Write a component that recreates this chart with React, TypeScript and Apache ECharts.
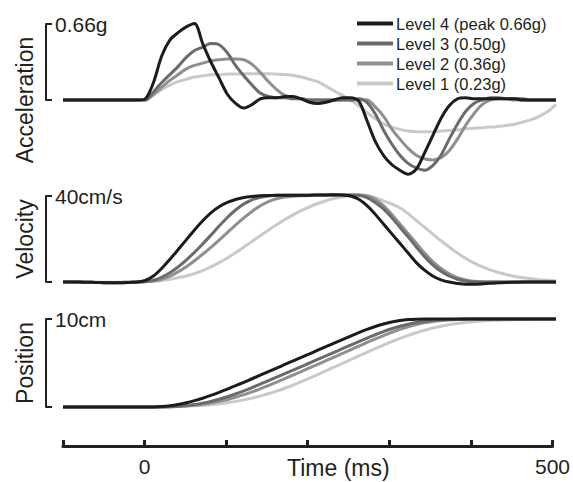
import React, { useEffect, useRef } from "react";
import * as echarts from "echarts";

// ---- data (time in ms, 10 ms steps) ----
const timeMs = [
  -100, -90, -80, -70, -60, -50, -40, -30, -20, -10,
  0, 10, 20, 30, 40, 50, 60, 70, 80, 90,
  100, 110, 120, 130, 140, 150, 160, 170, 180, 190,
  200, 210, 220, 230, 240, 250, 260, 270, 280, 290,
  300, 310, 320, 330, 340, 350, 360, 370, 380, 390,
  400, 410, 420, 430, 440, 450, 460, 470, 480, 490, 500,
];

const levelNames = ["Level 4 (peak 0.66g)", "Level 3 (0.50g)", "Level 2 (0.36g)", "Level 1 (0.23g)"];
const levelColors = ["#1c1c1c", "#6b6b6b", "#8f8f8f", "#c9c9c9"];

// Acceleration (g)
const accL4 = [
  0, 0, 0, 0, 0, 0, 0, 0, 0, 0,
  0.01, 0.15, 0.38, 0.52, 0.585, 0.635, 0.665, 0.49, 0.33, 0.19,
  0.05, -0.03, -0.07, -0.04, 0.01, 0.02, 0.02, 0.03, 0.03, 0.01,
  -0.02, -0.03, -0.02, 0.0, 0.02, 0.02, -0.01, -0.18, -0.36, -0.48,
  -0.56, -0.61, -0.645, -0.6, -0.46, -0.31, -0.16, -0.05, 0.01, 0.02,
  0.01, 0.01, 0.01, 0.01, 0.01, 0.01, 0, 0, 0, 0, 0,
];
const accL3 = [
  0, 0, 0, 0, 0, 0, 0, 0, 0, 0,
  0.0, 0.07, 0.15, 0.22, 0.29, 0.37, 0.43, 0.46, 0.49, 0.48,
  0.41, 0.30, 0.21, 0.13, 0.06, 0.03, 0.02, 0.02, 0.01, 0.01,
  0.0, 0.0, 0.0, 0.0, 0.0, 0.0, 0.01, -0.02, -0.12, -0.26,
  -0.38, -0.48, -0.55, -0.59, -0.61, -0.57, -0.48, -0.34, -0.21, -0.1,
  -0.03, 0.0, 0.02, 0.02, 0.01, 0.01, 0.01, 0, 0, 0, 0,
];
const accL2 = [
  0, 0, 0, 0, 0, 0, 0, 0, 0, 0,
  0, 0.05, 0.11, 0.17, 0.22, 0.27, 0.30, 0.32, 0.34, 0.35,
  0.355, 0.355, 0.35, 0.31, 0.24, 0.16, 0.09, 0.04, 0.02, 0.01,
  0, 0, 0, 0, 0, 0, 0, 0, -0.06, -0.14,
  -0.25, -0.34, -0.42, -0.48, -0.51, -0.52, -0.5, -0.44, -0.34, -0.22,
  -0.12, -0.04, 0, 0.01, 0.01, 0, 0, 0, 0, 0, 0,
];
const accL1 = [
  0, 0, 0, 0, 0, 0, 0, 0, 0, 0,
  0, 0.04, 0.09, 0.13, 0.16, 0.18, 0.20, 0.21, 0.22, 0.22,
  0.225, 0.225, 0.228, 0.228, 0.228, 0.228, 0.225, 0.222, 0.215, 0.2,
  0.18, 0.16, 0.12, 0.08, 0.04, 0.0, -0.05, -0.11, -0.16, -0.21,
  -0.235, -0.255, -0.27, -0.275, -0.275, -0.275, -0.27, -0.265, -0.26, -0.25,
  -0.245, -0.24, -0.235, -0.23, -0.22, -0.21, -0.19, -0.17, -0.14, -0.1, -0.04,
];

// Velocity (cm/s)
const velL4 = [
  0, 0, 0, -0.1, -0.2, -0.3, -0.4, -0.4, -0.2, 0,
  0.7, 2.8, 6.3, 10.5, 15, 19.6, 24.2, 28.5, 32.2, 35,
  37, 38.4, 39.3, 39.8, 40.1, 40.2, 40.3, 40.3, 40.4, 40.4,
  40.4, 40.5, 40.5, 40.6, 40.5, 40, 38.5, 35.5, 31.5, 27,
  22.5, 18, 13.5, 9, 5.5, 2.8, 1, 0, -0.7, -1.1,
  -1.1, -0.9, -0.6, -0.4, -0.2, -0.1, 0, 0, 0, 0, 0,
];
const velL3 = [
  0, 0, 0, -0.1, -0.2, -0.3, -0.3, -0.3, -0.2, 0,
  0.2, 0.8, 2.2, 4.3, 7.0, 10.2, 13.8, 17.7, 21.8, 26,
  30, 33.5, 36.3, 38.2, 39.4, 40.0, 40.3, 40.3, 40.4, 40.4,
  40.4, 40.5, 40.5, 40.5, 40.5, 40.5, 40.3, 39.3, 37, 34,
  30, 25.5, 21, 16.3, 11.8, 8, 5, 2.8, 1.3, 0.5,
  0.1, 0, 0, 0, 0, 0, 0, 0, 0, 0, 0,
];
const velL2 = [
  0, 0, 0, -0.1, -0.2, -0.2, -0.3, -0.2, -0.1, 0,
  0.1, 0.4, 1.2, 2.7, 4.7, 7.1, 9.9, 12.9, 16.1, 19.5,
  23, 26.5, 29.8, 32.8, 35.4, 37.4, 38.7, 39.5, 39.9, 40.1,
  40.2, 40.3, 40.4, 40.4, 40.5, 40.5, 40.5, 40, 38.5, 35.5,
  31.5, 27, 22.5, 18, 13.5, 9.5, 6.3, 3.8, 2, 1,
  0.4, 0.1, 0, 0, 0, 0, 0, 0, 0, 0, 0,
];
const velL1 = [
  0, 0, 0, 0, -0.1, -0.1, -0.1, -0.1, 0, 0,
  0.1, 0.3, 0.7, 1.3, 2.0, 2.8, 3.9, 5.3, 7.0, 9.0,
  11.2, 13.6, 16.2, 18.9, 21.5, 24.1, 26.6, 29, 31.2, 33.2,
  35, 36.5, 37.8, 38.8, 39.6, 40.1, 40.4, 40.2, 39.2, 37.8,
  36.3, 34.5, 31.8, 28.6, 25.5, 22.3, 19.2, 16.3, 13.5, 11,
  8.9, 7.1, 5.6, 4.4, 3.4, 2.6, 2.0, 1.5, 1.1, 0.8, 0.5,
];

// Position (cm)
const posL4 = [
  0, 0, 0, 0, 0, 0, 0, 0, 0, 0,
  0, 0.01, 0.06, 0.15, 0.29, 0.48, 0.72, 1.0, 1.32, 1.67,
  2.04, 2.42, 2.81, 3.21, 3.61, 4.02, 4.42, 4.83, 5.23, 5.64,
  6.04, 6.45, 6.85, 7.26, 7.66, 8.06, 8.45, 8.82, 9.15, 9.44,
  9.66, 9.82, 9.93, 9.98, 10, 10, 10, 10, 10, 10,
  10, 10, 10, 10, 10, 10, 10, 10, 10, 10, 10,
];
const posL3 = [
  0, 0, 0, 0, 0, 0, 0, 0, 0, 0,
  0, 0, 0.01, 0.03, 0.08, 0.16, 0.28, 0.44, 0.64, 0.88,
  1.16, 1.48, 1.83, 2.2, 2.59, 2.99, 3.39, 3.79, 4.19, 4.6,
  5.0, 5.41, 5.81, 6.22, 6.62, 7.03, 7.43, 7.83, 8.21, 8.57,
  8.89, 9.17, 9.41, 9.6, 9.74, 9.84, 9.91, 9.95, 9.98, 9.99,
  10, 10, 10, 10, 10, 10, 10, 10, 10, 10, 10,
];
const posL2 = [
  0, 0, 0, 0, 0, 0, 0, 0, 0, 0,
  0, 0, 0.01, 0.03, 0.06, 0.12, 0.2, 0.31, 0.46, 0.64,
  0.86, 1.11, 1.4, 1.72, 2.07, 2.44, 2.83, 3.23, 3.63, 4.03,
  4.44, 4.85, 5.26, 5.67, 6.08, 6.5, 6.92, 7.33, 7.73, 8.12,
  8.48, 8.82, 9.12, 9.37, 9.57, 9.72, 9.83, 9.9, 9.95, 9.98,
  10, 10, 10, 10, 10, 10, 10, 10, 10, 10, 10,
];
const posL1 = [
  0, 0, 0, 0, 0, 0, 0, 0, 0, 0,
  0, 0, 0.01, 0.02, 0.05, 0.08, 0.13, 0.19, 0.27, 0.37,
  0.49, 0.64, 0.81, 1.01, 1.24, 1.5, 1.8, 2.13, 2.49, 2.88,
  3.28, 3.69, 4.11, 4.53, 4.95, 5.37, 5.8, 6.22, 6.63, 7.03,
  7.42, 7.79, 8.13, 8.44, 8.72, 8.97, 9.18, 9.35, 9.49, 9.6,
  9.69, 9.76, 9.82, 9.87, 9.91, 9.94, 9.96, 9.98, 9.99, 10, 10,
];

// axis / scale-bar values
const timeRange = [-100, 500];
const timeTickStep = 100;
const timeLabelled = [0, 500];
const accScale = [0, 0.66];
const velScale = [0, 40];
const posScale = [0, 10];
const accScaleLabel = "0.66g";
const velScaleLabel = "40cm/s";
const posScaleLabel = "10cm";
const panelTitles = ["Acceleration", "Velocity", "Position"];
const timeTitle = "Time (ms)";

const FONT = "'Liberation Sans', Arial, Helvetica, sans-serif";
const INK = "#231f20";

export default function App() {
  const ref = useRef<HTMLDivElement>(null);

  useEffect(() => {
    if (!ref.current) return;
    const chart = echarts.init(ref.current, undefined, { renderer: "svg" });

    const panels = [
      { data: [accL4, accL3, accL2, accL1] },
      { data: [velL4, velL3, velL2, velL1] },
      { data: [posL4, posL3, posL2, posL1] },
    ];

    const series: any[] = [];
    panels.forEach((p, pi) => {
      for (let li = 3; li >= 0; li--) {
        series.push({
          type: "line",
          name: levelNames[li],
          xAxisIndex: pi,
          yAxisIndex: pi,
          data: timeMs.map((t, k) => [t, p.data[li][k]]),
          symbol: "none",
          smooth: 0.3,
          clip: false,
          lineStyle: { color: levelColors[li], width: 3 },
          itemStyle: { color: levelColors[li] },
          z: 10 - li,
        });
      }
    });

    const LEFT = 63;
    const RIGHT = 17;
    const dataGrid = (top: number, height: number) => ({ left: LEFT, right: RIGHT, top, height });
    const barGrid = (top: number, height: number) => ({ left: 46, width: 10, top, height });

    const titleAxis = (gi: number, min: number, max: number, name: string) => ({
      type: "value",
      gridIndex: gi,
      min,
      max,
      axisLine: { show: false },
      axisTick: { show: false },
      axisLabel: { show: false },
      splitLine: { show: false },
      name,
      nameLocation: "middle",
      nameRotate: 90,
      nameGap: 27,
      nameTextStyle: { fontSize: 23, color: INK, fontFamily: FONT },
    });

    const scaleAxis = (gi: number, range: number[], label: string) => ({
      type: "value",
      gridIndex: gi,
      position: "left",
      min: range[0],
      max: range[1],
      interval: range[1] - range[0],
      axisLine: { show: true, lineStyle: { color: INK, width: 2 } },
      axisTick: { show: true, inside: true, length: 6, lineStyle: { color: INK, width: 2 } },
      axisLabel: {
        inside: true,
        margin: 9,
        fontSize: 21,
        color: INK,
        fontFamily: FONT,
        formatter: (v: number) => (v > range[0] ? label : ""),
      },
      splitLine: { show: false },
    });

    const hiddenX = (gi: number) => ({
      type: "value",
      gridIndex: gi,
      min: timeRange[0],
      max: timeRange[1],
      show: false,
    });

    const option: any = {
      animation: false,
      backgroundColor: "#ffffff",
      textStyle: { fontFamily: FONT },
      legend: {
        data: levelNames,
        orient: "vertical",
        left: 352,
        top: 10,
        itemWidth: 36,
        itemHeight: 4,
        itemGap: 3,
        icon: "rect",
        textStyle: { fontSize: 16.5, color: INK, fontFamily: FONT, padding: [0, 0, 0, -2] },
        selectedMode: false,
      },
      grid: [
        dataGrid(24, 152),
        dataGrid(196, 86),
        dataGrid(319, 88),
        barGrid(24, 76),
        barGrid(196, 86),
        barGrid(319, 88),
        dataGrid(445, 1),
      ],
      xAxis: [
        hiddenX(0),
        hiddenX(1),
        hiddenX(2),
        { ...hiddenX(3), min: 0, max: 1 },
        { ...hiddenX(4), min: 0, max: 1 },
        { ...hiddenX(5), min: 0, max: 1 },
        {
          type: "value",
          gridIndex: 6,
          min: timeRange[0],
          max: timeRange[1],
          interval: timeTickStep,
          position: "bottom",
          axisLine: { show: true, lineStyle: { color: INK, width: 3 } },
          axisTick: { show: true, inside: true, length: 6, lineStyle: { color: INK, width: 3 } },
          axisLabel: {
            margin: 10,
            fontSize: 21,
            color: INK,
            fontFamily: FONT,
            formatter: (v: number) => (timeLabelled.includes(v) ? String(v) : ""),
          },
          splitLine: { show: false },
        },
      ],
      yAxis: [
        titleAxis(0, -accScale[1], accScale[1], panelTitles[0]),
        titleAxis(1, velScale[0], velScale[1], panelTitles[1]),
        titleAxis(2, posScale[0], posScale[1], panelTitles[2]),
        scaleAxis(3, accScale, accScaleLabel),
        scaleAxis(4, velScale, velScaleLabel),
        scaleAxis(5, posScale, posScaleLabel),
        { type: "value", gridIndex: 6, min: 0, max: 1, show: false },
      ],
      graphic: [
        {
          type: "text",
          left: 287,
          top: 456,
          style: { text: timeTitle, fontSize: 23, fill: INK, fontFamily: FONT },
        },
      ],
      series,
    };

    chart.setOption(option);
    return () => chart.dispose();
  }, []);

  return (
    <div
      ref={ref}
      style={{ position: "fixed", left: 0, top: 0, width: 573, height: 482, background: "#fff" }}
    />
  );
}
